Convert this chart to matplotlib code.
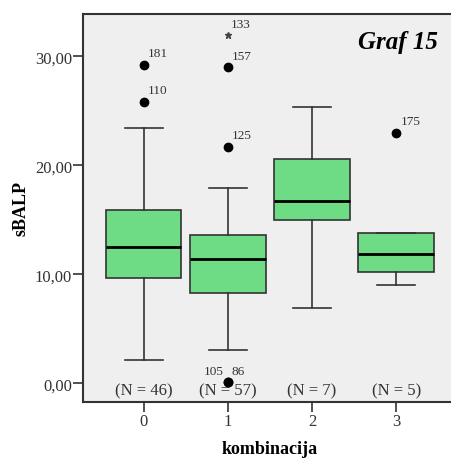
import matplotlib
matplotlib.use("Agg")
import matplotlib.pyplot as plt

plt.rcParams['font.family'] = ['Liberation Serif', 'DejaVu Serif']

# box summary per group of "kombinacija"
groups = [0, 1, 2, 3]
counts = [46, 57, 7, 5]
whislo = [2.15, 3.1, 6.95, 9.05]
q1 = [9.65, 8.3, 15.0, 10.25]
med = [12.5, 11.4, 16.7, 11.85]
q3 = [15.9, 13.6, 20.6, 13.8]
whishi = [23.4, 17.9, 25.3, 13.8]

# outliers: (group, value, case number)
out_group = [0, 0, 1, 1, 1, 1, 3]
out_value = [29.2, 25.8, 29.0, 21.7, 0.1, 0.1, 23.0]
out_case = ['181', '110', '157', '125', '105', '86', '175']
# extreme values
ext_group = [1]
ext_value = [31.9]
ext_case = ['133']

fig = plt.figure(figsize=(4.52, 4.64), dpi=100)
ax = fig.add_axes([0.1836, 0.1315, 0.827, 0.837])
ax.set_facecolor('#efefef')

stats = []
for i in range(len(groups)):
    stats.append(dict(whislo=whislo[i], q1=q1[i], med=med[i], q3=q3[i],
                      whishi=whishi[i], fliers=[]))

ax.bxp(stats, positions=groups, widths=0.9, patch_artist=True,
       showfliers=False,
       boxprops=dict(facecolor='#6edc84', edgecolor='#333333', linewidth=1.2),
       medianprops=dict(color='black', linewidth=2),
       whiskerprops=dict(color='#333333', linewidth=1.2),
       capprops=dict(color='#333333', linewidth=1.2),
       capwidths=0.45)

ax.plot(out_group, out_value, 'o', color='black', markersize=6, zorder=5)
ax.plot(ext_group, ext_value, '*', color='#444444', markersize=5, zorder=5)

for g, v, c in zip(out_group, out_value, out_case):
    if c == '105':
        ax.annotate(c, (g, v), xytext=(-3, 4), textcoords='offset points',
                    ha='right', va='bottom', fontsize=9.5, color='#333333')
    else:
        ax.annotate(c, (g, v), xytext=(3, 4), textcoords='offset points',
                    ha='left', va='bottom', fontsize=9.5, color='#333333')
for g, v, c in zip(ext_group, ext_value, ext_case):
    ax.annotate(c, (g, v), xytext=(2, 4), textcoords='offset points',
                ha='left', va='bottom', fontsize=9.5, color='#333333')

for g, n in zip(groups, counts):
    ax.text(g, -0.6, '(N = %d)' % n, ha='center', va='center',
            fontsize=12, color='#333333')

ax.text(3.49, 31.3, 'Graf 15', ha='right', va='center', fontsize=18,
        fontweight='bold', fontstyle='italic')

ax.set_xlim(-0.72, 3.72)
ax.set_ylim(-1.7, 33.9)
ax.set_xticks(groups)
ax.set_xticklabels([str(g) for g in groups])
ax.set_yticks([0, 10, 20, 30])
ax.set_yticklabels(['0,00', '10,00', '20,00', '30,00'])
ax.tick_params(length=7, width=1.2, labelsize=12, labelcolor='#333333',
               color='#333333', pad=1)
for s in ax.spines.values():
    s.set_color('#333333')
    s.set_linewidth(1.5)

ax.set_xlabel('kombinacija', fontsize=13, fontweight='bold', labelpad=8)
ax.set_ylabel('sBALP', fontsize=13, fontweight='bold', labelpad=4)

fig.savefig('out.png', dpi=100)
